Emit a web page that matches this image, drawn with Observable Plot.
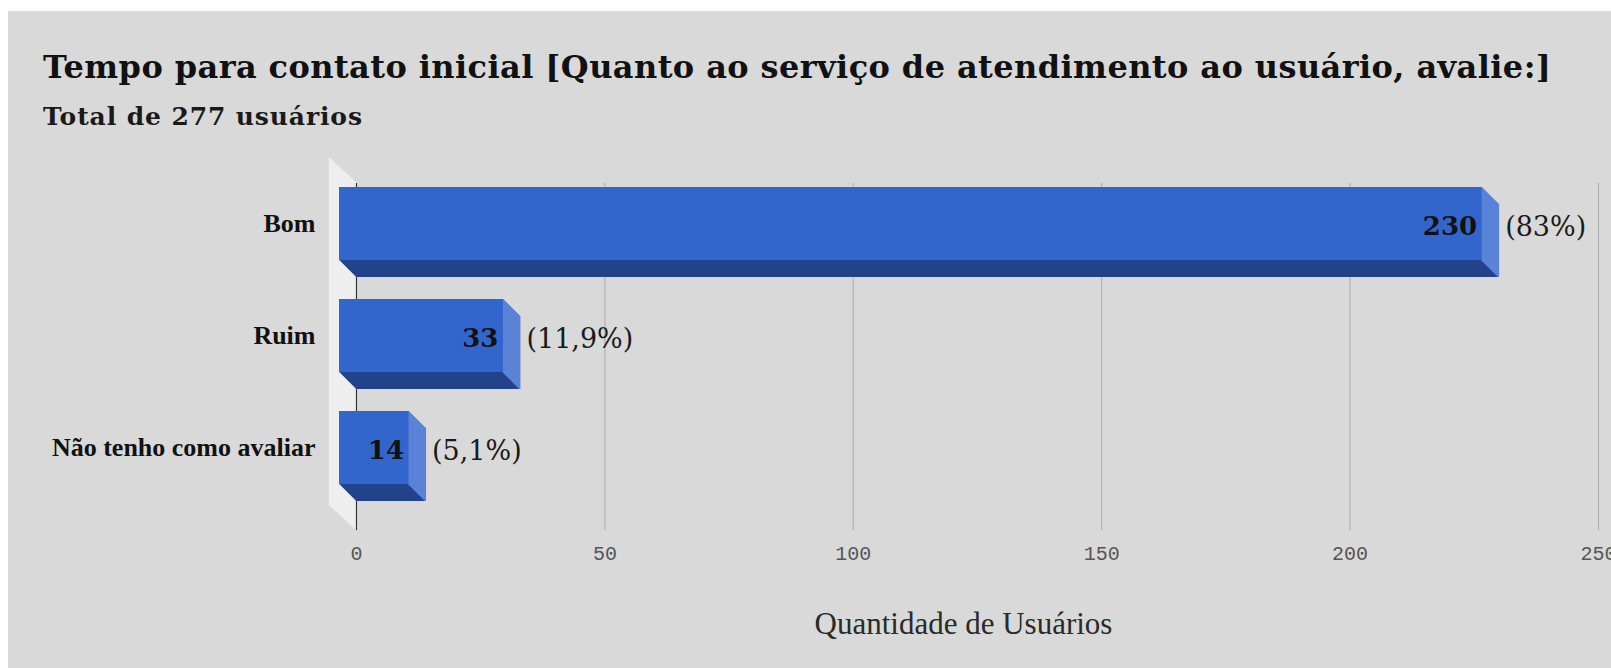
<!DOCTYPE html>
<html>
<head>
<meta charset="utf-8">
<script src="https://cdn.jsdelivr.net/npm/d3@7"></script>
<script src="https://cdn.jsdelivr.net/npm/@observablehq/plot@0.6"></script>
<style>
  html, body { margin: 0; padding: 0; background: #ffffff; overflow: hidden; width: 1611px; height: 668px; }
  #bg { position: absolute; left: 8px; top: 11px; width: 1603px; height: 657px; background: #d9d9d9; }
  #title { position: absolute; left: 43px; top: 51px; margin: 0; font-family: "DejaVu Serif", serif; font-weight: bold; font-size: 32px; line-height: 1; color: #111; white-space: nowrap; }
  #subtitle { position: absolute; left: 43px; top: 104px; margin: 0; font-family: "DejaVu Serif", serif; font-weight: bold; font-size: 25px; line-height: 1; color: #1a1a1a; white-space: nowrap; }
  #chart { position: absolute; left: 0; top: 140px; }
</style>
</head>
<body>
<div id="bg"></div>
<div id="title">Tempo para contato inicial [Quanto ao serviço de atendimento ao usuário, avalie:]</div>
<div id="subtitle">Total de 277 usuários</div>
<div id="chart"></div>
<script>
// ---- data ----
const categories = ["Bom", "Ruim", "Não tenho como avaliar"];
const values = [230, 33, 14];
const percentLabels = ["(83%)", "(11,9%)", "(5,1%)"];
const xTicks = [0, 50, 100, 150, 200, 250];
const xDomain = [0, 250];
const axisTitle = "Quantidade de Usuários";

const data = categories.map((c, i) => ({cat: c, value: values[i], pct: percentLabels[i]}));

// fit header text widths by letter-spacing
function fit(id, target) {
  const el = document.getElementById(id);
  const cs = getComputedStyle(el);
  const ctx = document.createElement("canvas").getContext("2d");
  ctx.font = `${cs.fontWeight} ${cs.fontSize} ${cs.fontFamily}`;
  const w = ctx.measureText(el.textContent).width;
  const n = el.textContent.length - 1;
  el.style.letterSpacing = ((target - w) / n) + "px";
}
fit("title", 1508);
fit("subtitle", 319);

// 3D depth (pixels)
const depth = 17;
const barSteps = d3.range(0, depth + 0.01, 0.5);
const wallSteps = d3.range(0, 1.0001, 1 / 54);

const front = "#3366cc", bottom = "#22428a", side = "#5b84d8";

const marks = [];
// left wall
for (const t of wallSteps) {
  marks.push(Plot.ruleX([0], {stroke: "#eeeeee", strokeWidth: 1.5, dx: -27 * t, dy: -25 * t}));
}
// gridlines
marks.push(Plot.ruleX(xTicks.slice(1), {stroke: "#ababab", strokeWidth: 1}));
marks.push(Plot.ruleX([0], {stroke: "#333333", strokeWidth: 1.2}));
// bar silhouette (dark bottom face)
for (const t of barSteps) {
  marks.push(Plot.barX(data, {x: "value", y: "cat", fill: bottom, dx: -t, dy: -t}));
}
// right side face
for (const t of barSteps) {
  marks.push(Plot.tickX(data, {x: "value", y: "cat", stroke: side, strokeWidth: 1.5, dx: -t - 0.75, dy: -t}));
}
// front face
marks.push(Plot.barX(data, {x: "value", y: "cat", fill: front, dx: -depth, dy: -depth}));
// value labels
marks.push(Plot.text(data, {x: "value", y: "cat", text: d => String(d.value), textAnchor: "end", dx: -depth - 5, dy: -depth + 3,
  fontFamily: "DejaVu Serif", fontWeight: "bold", fontSize: 26, fill: "#111"}));
// percent labels
marks.push(Plot.text(data, {x: "value", y: "cat", text: "pct", textAnchor: "start", dx: 6, dy: -depth + 3,
  fontFamily: "DejaVu Serif", fontSize: 27, fill: "#1a1a1a"}));
// category labels
marks.push(Plot.text(data, {frameAnchor: "left", y: "cat", text: "cat", textAnchor: "end", dx: -41, dy: -depth,
  fontFamily: "Liberation Serif", fontWeight: "bold", fontSize: 26, fill: "#111"}));
// x axis tick labels
marks.push(Plot.axisX({ticks: xTicks, tickSize: 0, tickPadding: 15, tickFormat: d => String(d), label: null,
  fontFamily: "Liberation Mono", fontSize: 20, fill: "#555"}));
// axis title
marks.push(Plot.text([axisTitle], {frameAnchor: "bottom", text: d => d, dx: -14, dy: 103,
  fontFamily: "Liberation Serif", fontSize: 31, fill: "#2a2a2a"}));

const chart = Plot.plot({
  width: 1611,
  height: 528,
  marginLeft: 356,
  marginRight: 13,
  marginTop: 43,
  marginBottom: 138,
  style: {background: "transparent", overflow: "visible"},
  x: {domain: xDomain, axis: null},
  y: {domain: categories, axis: null, paddingInner: 0.351, paddingOuter: 0.2177, align: 0.41},
  marks
});
document.getElementById("chart").appendChild(chart);
</script>
</body>
</html>
